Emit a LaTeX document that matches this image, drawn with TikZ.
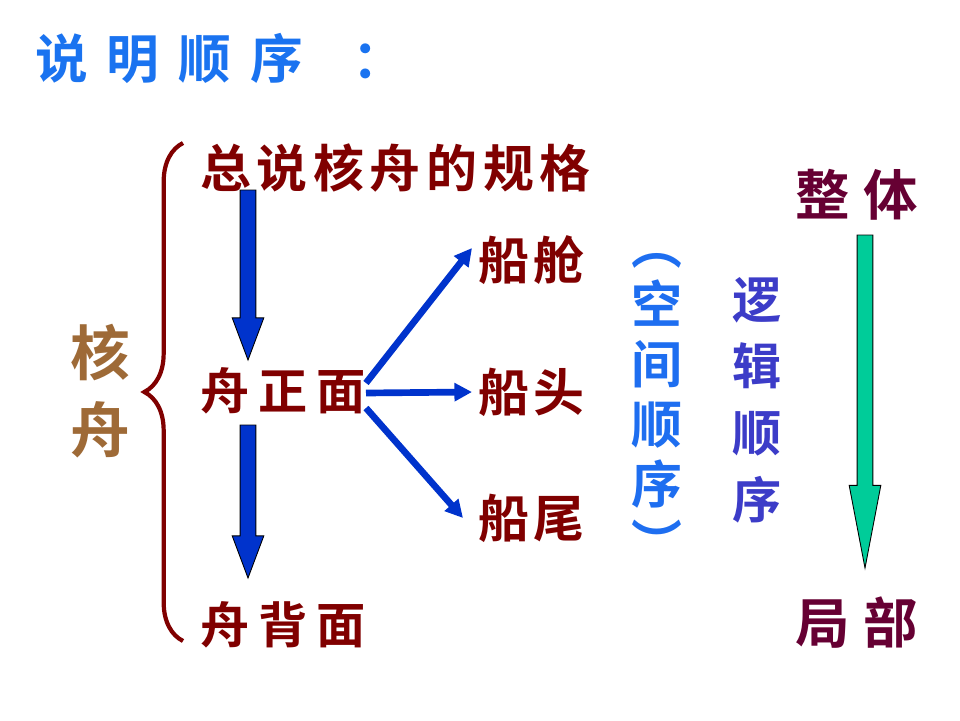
\documentclass[tikz,border=0pt]{standalone}
\usepackage{fontspec}
\usepackage{xcolor}
\usepackage{tikz}
\usetikzlibrary{positioning, arrows.meta, calc, decorations.pathreplacing}
\newfontfamily\hei{Noto Sans CJK SC}[BoldFont={Noto Sans CJK SC Bold}]
\definecolor{bleutitre}{RGB}{26,115,240}
\definecolor{rougefonce}{RGB}{128,0,0}
\definecolor{brun}{RGB}{158,106,55}
\definecolor{bleufleche}{RGB}{0,51,204}
\definecolor{bleuespace}{RGB}{30,110,240}
\definecolor{violet}{RGB}{60,60,200}
\definecolor{prune}{RGB}{102,0,51}
\definecolor{vertd}{RGB}{0,204,153}
% grosse fleche verticale : depart, arrivee, couleur, longueur de la tete
\newcommand{\grossefleche}[4]{%
  \path[draw=black, line width=0.5pt, fill=#3] let \p1=(#1), \p2=(#2) in
    (\x1-4.5pt,\y1) -- (\x1+4.5pt,\y1) -- (\x1+4.5pt,\y2+#4) -- (\x1+9pt,\y2+#4)
    -- (\x1,\y2) -- (\x1-9pt,\y2+#4) -- (\x1-4.5pt,\y2+#4) -- cycle;}

\begin{document}
\begin{tikzpicture}[x=0.02cm, y=-0.02cm,
    >={Triangle[length=10pt, width=10pt]},
    titre/.style={text=bleutitre, inner sep=0pt, anchor=west,
                  font={\hei\bfseries\fontsize{30}{32}\selectfont\addfontfeature{LetterSpace=36}}},
    mot/.style={text=rougefonce, inner sep=0pt, anchor=west,
                font={\hei\bfseries\fontsize{29}{32}\selectfont\addfontfeature{LetterSpace=11}}},
    large/.style={mot, font={\hei\bfseries\fontsize{28}{32}\selectfont\addfontfeature{LetterSpace=18}}},
    court/.style={mot, font={\hei\bfseries\fontsize{29}{32}\selectfont\addfontfeature{LetterSpace=8}}},
    colonne/.style={inner sep=0pt, align=center},
    fleche/.style={->, line width=3.8pt, draw=bleufleche}]
    \useasboundingbox (0,0) rectangle (960,720);
    \node[titre] (titre) at (35,58) {说明顺序\hspace{28pt}：};
    % partie gauche
    \node[mot] (zong) at (200,168) {总说核舟的规格};
    \node[large] (zheng) at (200,391) {舟正面};
    \node[large] (bei) at (200,625) {舟背面};
    \node[court] (cang) at (478,260) {船舱};
    \node[court] (tou) at (478,392) {船头};
    \node[court] (wei) at (478,518) {船尾};
    \node[colonne, text=brun, font={\hei\bfseries\fontsize{34}{44}\selectfont}] (hezhou) at (100,391) {核\\舟};
    \draw[rougefonce, line width=2.4pt, decorate,
          decoration={brace, amplitude=22pt, aspect=0.5}] (183,641) -- (183,143);
    \coordinate (d1) at (248,190);
    \coordinate (f1) at (248,360);
    \coordinate (d2) at (248,425);
    \coordinate (f2) at (248,578);
    \grossefleche{d1}{f1}{bleufleche}{24pt}
    \grossefleche{d2}{f2}{bleufleche}{24pt}
    \draw[fleche] ([shift={(0,-8)}]zheng.east) -- ([shift={(-6,-12)}]cang.west);
    \draw[fleche] ([shift={(0,2)}]zheng.east) -- ([shift={(-6,0)}]tou.west);
    \draw[fleche] ([shift={(0,17)}]zheng.east) -- ([shift={(-15,0)}]wei.west);
    % partie droite
    \node[colonne, text=bleuespace, font={\hei\bfseries\fontsize{29}{34}\selectfont}] (espace) at (657,408) {︵\\空\\间\\顺\\序\\︶};
    \node[colonne, text=violet, font={\hei\bfseries\fontsize{28}{38}\selectfont}] (logique) at (757,400) {逻\\辑\\顺\\序};
    \node[colonne, text=prune, font={\hei\bfseries\fontsize{31}{34}\selectfont\addfontfeature{LetterSpace=25}}] (ensemble) at (857,195) {整体};
    \node[colonne, text=prune, font={\hei\bfseries\fontsize{31}{34}\selectfont\addfontfeature{LetterSpace=25}}] (partie) at (857,623) {局部};
    \coordinate (d3) at (865,235);
    \coordinate (f3) at (865,568);
    \grossefleche{d3}{f3}{vertd}{47pt}
  \end{tikzpicture}
\end{document}
